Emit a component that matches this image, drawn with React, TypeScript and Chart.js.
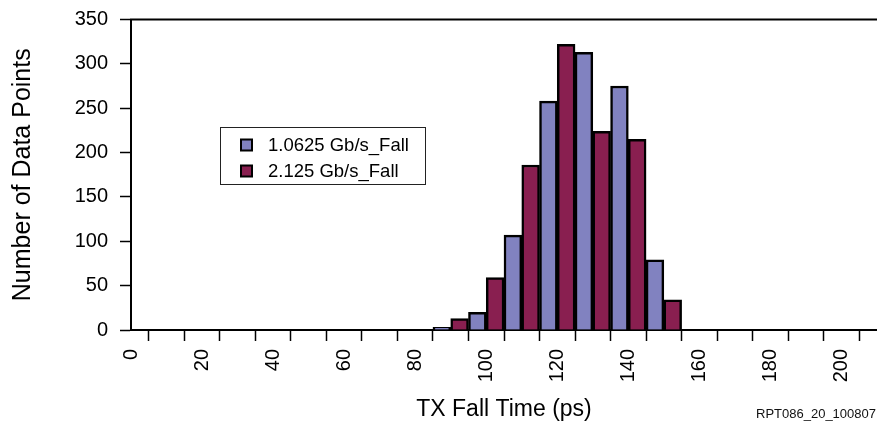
import React, { useEffect, useRef } from "react";
import { Chart, registerables } from "chart.js";

Chart.register(...registerables);

// ---- Data ----
const BIN_WIDTH = 5; // ps
const series1Label = "1.0625 Gb/s_Fall";
const series1BinStarts = [85, 95, 105, 115, 125, 135, 145];
const series1Values = [3, 20, 107, 258, 313, 275, 79];

const series2Label = "2.125 Gb/s_Fall";
const series2BinStarts = [90, 100, 110, 120, 130, 140, 150];
const series2Values = [13, 59, 186, 322, 224, 215, 34];

const xMin = 0;
const xMax = 210;
const xStep = 10;
const yMin = 0;
const yMax = 350;
const yStep = 50;

const xTitle = "TX Fall Time (ps)";
const yTitle = "Number of Data Points";
const footnote = "RPT086_20_100807";

const COLOR1 = "#8182C0";
const COLOR2 = "#891F50";
const FONT = "'Liberation Sans', Arial, Helvetica, sans-serif";

const toPoints = (starts: number[], values: number[]) =>
  starts.map((s, i) => ({ x: s + BIN_WIDTH / 2, y: values[i] }));

const extrasPlugin = {
  id: "extras",
  afterDraw(chart: any) {
    const { ctx, chartArea } = chart;
    ctx.save();
    // top frame line
    ctx.strokeStyle = "#000";
    ctx.lineWidth = 2;
    ctx.beginPath();
    ctx.moveTo(chartArea.left - 1, chartArea.top);
    ctx.lineTo(chartArea.right + 2, chartArea.top);
    ctx.stroke();

    // legend box
    const bx = 220.5, by = 127.5, bw = 205, bh = 57;
    ctx.fillStyle = "#fff";
    ctx.fillRect(bx, by, bw, bh);
    ctx.strokeStyle = "#222";
    ctx.lineWidth = 1;
    ctx.strokeRect(bx, by, bw, bh);
    const items = [
      { label: series1Label, color: COLOR1, y: 145 },
      { label: series2Label, color: COLOR2, y: 171 },
    ];
    ctx.font = `18.5px ${FONT}`;
    ctx.textBaseline = "middle";
    ctx.textAlign = "left";
    for (const it of items) {
      ctx.fillStyle = it.color;
      ctx.fillRect(241, it.y - 5.5, 11, 11);
      ctx.strokeStyle = "#000";
      ctx.lineWidth = 2;
      ctx.strokeRect(241, it.y - 5.5, 11, 11);
      ctx.fillStyle = "#000";
      ctx.fillText(it.label, 268, it.y + 1);
    }

    // footnote
    ctx.font = `13px ${FONT}`;
    ctx.fillStyle = "#111";
    ctx.textAlign = "right";
    ctx.fillText(footnote, 876, 414);
    ctx.restore();
  },
};

export default function App() {
  const ref = useRef<HTMLCanvasElement | null>(null);

  useEffect(() => {
    if (!ref.current) return;
    Chart.defaults.color = "#000";
    Chart.defaults.font.family = FONT;
    const chart = new Chart(ref.current, {
      type: "bar",
      data: {
        datasets: [
          {
            label: series1Label,
            data: toPoints(series1BinStarts, series1Values),
            backgroundColor: COLOR1,
            borderColor: "#000",
            borderWidth: 2.5,
            categoryPercentage: 1,
            barPercentage: 1,
          },
          {
            label: series2Label,
            data: toPoints(series2BinStarts, series2Values),
            backgroundColor: COLOR2,
            borderColor: "#000",
            borderWidth: 2.5,
            categoryPercentage: 1,
            barPercentage: 1,
          },
        ] as any,
      },
      options: {
        animation: false,
        responsive: true,
        maintainAspectRatio: false,
        layout: { padding: { top: 19.5, right: 0, left: 0, bottom: 0 } },
        plugins: {
          legend: { display: false },
          tooltip: { enabled: false },
        },
        scales: {
          x: {
            type: "linear",
            stacked: true,
            min: xMin,
            max: xMax,
            offset: false,
            afterFit: (s: any) => {
              s.height = 98;
            },
            ticks: {
              stepSize: xStep,
              autoSkip: false,
              minRotation: 90,
              maxRotation: 90,
              padding: 8,
              font: { size: 20 },
              color: "#000",
              callback: (v: any) => {
                const n = Number(v);
                if (n >= xMax) return null as any;
                return n % 20 === 0 ? String(n) : "";
              },
            },
            grid: {
              drawOnChartArea: false,
              drawTicks: true,
              tickLength: 11,
              tickColor: "#000",
              tickWidth: 1.5,
            },
            border: { display: true, color: "#000", width: 2 },
            title: {
              display: true,
              text: xTitle,
              font: { size: 23 },
              color: "#000",
              padding: { top: 0, bottom: 5 },
            },
          },
          y: {
            min: yMin,
            max: yMax,
            afterFit: (s: any) => {
              s.width = 131;
              s.paddingTop = 0;
              s.paddingBottom = 0;
            },
            ticks: {
              stepSize: yStep,
              padding: 12,
              font: { size: 20 },
              color: "#000",
            },
            grid: {
              drawOnChartArea: false,
              drawTicks: true,
              tickLength: 11,
              tickColor: "#000",
              tickWidth: 1.5,
            },
            border: { display: true, color: "#000", width: 2 },
            title: {
              display: true,
              text: yTitle,
              font: { size: 25 },
              color: "#000",
              padding: { top: 8, bottom: 0 },
            },
          },
        },
      },
      plugins: [extrasPlugin],
    });
    return () => chart.destroy();
  }, []);

  return (
    <div
      style={{
        position: "fixed",
        left: 0,
        top: 0,
        width: 877,
        height: 428,
        background: "#fff",
      }}
    >
      <canvas ref={ref} />
    </div>
  );
}
